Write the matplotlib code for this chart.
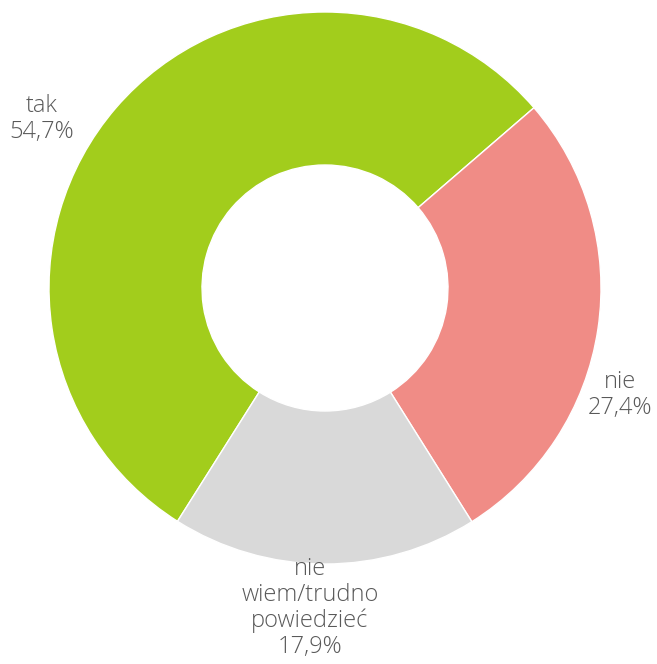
import matplotlib.pyplot as plt

labels = ['tak', 'nie', 'nie\nwiem/trudno\npowiedzieć']
values = [54.7, 27.4, 17.9]
colors = ['#A2CD1C', '#F08C86', '#D9D9D9']
value_labels = ['54,7%', '27,4%', '17,9%']

W, H = 657, 664
cx, cy, r = 325, 288, 276

fig = plt.figure(figsize=(W / 100, H / 100), dpi=100)
ax = fig.add_axes([(cx - r) / W, 1 - (cy + r) / H, 2 * r / W, 2 * r / H])

ax.pie(values, colors=colors, startangle=237.7, counterclock=False,
       radius=1, wedgeprops=dict(width=1 - 123 / 276, edgecolor='white', linewidth=1))
ax.set_xlim(-1, 1)
ax.set_ylim(-1, 1)
ax.axis('off')

# label positions in pixel coords (from the reference)
pos = [(42, 119), (620, 395), (310, 608)]
for lab, val, (px, py) in zip(labels, value_labels, pos):
    fig.text(px / W, 1 - py / H, lab + '\n' + val, ha='center', va='center',
             fontsize=17, color='#595959', family=['Open Sans', 'DejaVu Sans'],
             fontweight='light', linespacing=1.1)

fig.savefig('out.png', dpi=100)
